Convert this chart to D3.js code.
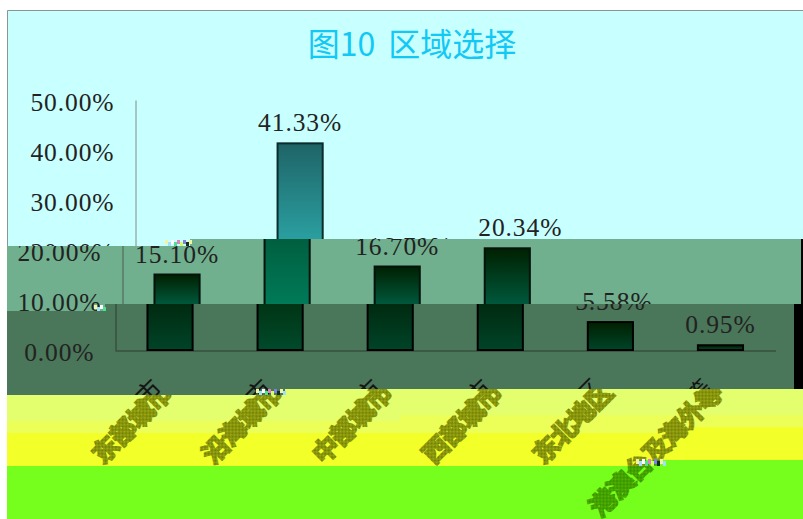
<!DOCTYPE html>
<html>
<head>
<meta charset="utf-8">
<script src="https://cdn.jsdelivr.net/npm/d3@7"></script>
<style>
  html, body { margin: 0; padding: 0; background: #fff; }
  svg { display: block; }
  .val, .ytick text { font-family: "Liberation Serif", serif; font-size: 25.5px; letter-spacing: 0.9px; fill: #222; }
  .xlab text { font-family: "Noto Sans CJK SC", sans-serif; font-size: 25px; }
</style>
</head>
<body>
<svg id="chart" width="803" height="519"></svg>
<script>
// the category names are scrambled beyond reading in the picture, these are best guesses
const categories = ["东部城市", "沿海城市", "中部城市", "西部城市", "东北地区", "港澳台及海外等"];
const shares = [15.10, 41.33, 16.70, 20.34, 5.58, 0.95];
const yTicks = [0, 10, 20, 30, 40, 50];
const titleText = "图10 区域选择";

const width = 803;
const height = 519;

// the picture is cut in bands that slipped sideways, each band shows the same chart moved by dx
const bands = [
  { id: "b1", dx: 0, fill: "#c8ffff", axis: "#808c8c", edge: "#0c2c2c",
    pts: [[7, 10], [803, 10], [803, 239], [190, 239], [190, 246], [7, 246]],
    top: 144, bottom: 239, from: () => "#1f6467", to: () => "#2a9fa0" },
  { id: "b2", dx: -13, fill: "#70b08e", axis: "#4a5a50", edge: "#04140c",
    pts: [[7, 246], [190, 246], [190, 239], [801, 239], [801, 304], [105, 304], [105, 311], [7, 311]],
    top: 239, bottom: 304, from: (d, i) => i === 1 ? "#005f3f" : "#002000", to: (d, i) => i === 1 ? "#007a58" : "#00583c" },
  { id: "b3", dx: -20, fill: "#4a7659", axis: "#2c3c30", edge: "#000",
    pts: [[7, 311], [105, 311], [105, 304], [794, 304], [794, 389], [285, 389], [285, 395], [7, 395]],
    top: 304, bottom: 350, from: (d, i) => i === 1 ? "#003514" : i > 3 ? "#002000" : "#002a10", to: (d, i) => i === 1 ? "#004a2c" : "#004428" }
];
const floorBands = [
  { fill: "#e4ff6e", pts: [[7, 395], [285, 395], [285, 389], [803, 389], [803, 415], [400, 415], [400, 421], [7, 421]] },
  { fill: "#ecff58", pts: [[7, 421], [400, 421], [400, 415], [803, 415], [803, 427], [667, 427], [667, 433], [7, 433]] },
  { fill: "#f3ff28", pts: [[7, 433], [667, 433], [667, 427], [803, 427], [803, 460], [645, 460], [645, 466], [7, 466]] },
  { fill: "#76ff1c", pts: [[7, 466], [645, 466], [645, 460], [803, 460], [803, 519], [7, 519]] }
];
const labelBands = [
  { id: "lab1", dx: -20, ink: "#6c7a00", gap: "#a3b018", pts: [[7, 395], [285, 395], [285, 389], [803, 389], [803, 460], [645, 460], [645, 466], [7, 466]] },
  { id: "lab2", dx: -20, ink: "#2f8c00", gap: "#58b800", pts: floorBands[3].pts }
];
// little specks of broken pixels along the cuts
const speckColors = ["#f4f4a0", "#a0e0ff", "#ffffff", "#50e090", "#e080c0", "#d0ff60", "#8080e0", "#103020"];
const specks = [
  { x: 165, y: 240, w: 25, h: 6 },
  { x: 94, y: 305, w: 12, h: 6 },
  { x: 256, y: 389, w: 30, h: 6 },
  { x: 636, y: 459, w: 30, h: 7 }
];

const svg = d3.select("#chart");
const defs = svg.append("defs");
const toPath = pts => "M" + pts.join("L") + "Z";

const x = d3.scaleBand().domain(categories).range([135, 795.5]).paddingInner(0.59).paddingOuter(0.295);
const y = d3.scaleLinear().domain([0, 50]).range([350, 100]);

// shared text and axis lines, shown once per band with <use>
const axisLines = defs.append("g").attr("id", "axisLines");
axisLines.append("g")
  .attr("transform", "translate(135.5,0)")
  .call(d3.axisLeft(y).tickValues([]).tickSize(0))
  .call(g => g.select(".domain").attr("stroke-width", 1));
axisLines.append("g")
  .attr("transform", "translate(0,350.5)")
  .call(d3.axisBottom(x).tickValues([]).tickSize(0))
  .call(g => g.select(".domain").attr("stroke-width", 1));

const chartText = defs.append("g").attr("id", "chartText");
chartText.append("g")
  .attr("class", "ytick")
  .attr("transform", "translate(135.5,0)")
  .call(d3.axisLeft(y).tickValues(yTicks).tickSize(0).tickPadding(21).tickFormat(d => d.toFixed(2) + "%"))
  .call(g => g.select(".domain").remove())
  .call(g => g.selectAll("text").attr("fill", null).attr("dy", "0.43em"));
chartText.selectAll("text.val")
  .data(shares)
  .join("text")
  .attr("class", "val")
  .attr("text-anchor", "middle")
  .attr("x", (d, i) => x(categories[i]) + x.bandwidth() / 2)
  .attr("y", d => y(d) - 12)
  .text(d => d.toFixed(2) + "%");

const xLabels = defs.append("g").attr("id", "xLabels").attr("class", "xlab");
xLabels.selectAll("text")
  .data(categories)
  .join("text")
  .attr("text-anchor", "end")
  .attr("transform", d => `translate(${x(d) + x.bandwidth() / 2 + 4},392) rotate(-45)`)
  .text(d => d);

// black strip behind the right end of the slipped bands
svg.append("rect").attr("x", 794).attr("y", 239).attr("width", 9).attr("height", 156).attr("fill", "#000");

svg.selectAll("path.floor")
  .data(floorBands)
  .join("path")
  .attr("class", "floor")
  .attr("d", d => toPath(d.pts))
  .attr("fill", d => d.fill);

bands.forEach(band => {
  defs.append("clipPath").attr("id", "clip-" + band.id).append("path").attr("d", toPath(band.pts));
  svg.append("path").attr("d", toPath(band.pts)).attr("fill", band.fill);

  const clipped = svg.append("g").attr("clip-path", `url(#clip-${band.id})`);
  const g = clipped.append("g").attr("transform", `translate(${band.dx},0)`);

  g.append("use").attr("href", "#axisLines").attr("color", band.axis);
  shares.forEach((v, i) => {
    const gradId = `grad-${band.id}-${i}`;
    const grad = defs.append("linearGradient").attr("id", gradId)
      .attr("gradientUnits", "userSpaceOnUse")
      .attr("x1", 0).attr("x2", 0)
      .attr("y1", Math.max(y(v), band.top)).attr("y2", band.bottom);
    grad.append("stop").attr("offset", 0).attr("stop-color", band.from(v, i));
    grad.append("stop").attr("offset", 1).attr("stop-color", band.to(v, i));
  });
  g.selectAll("rect.bar")
    .data(shares)
    .join("rect")
    .attr("class", "bar")
    .attr("x", (d, i) => x(categories[i]))
    .attr("width", x.bandwidth())
    .attr("y", d => y(d))
    .attr("height", d => y(0) - y(d))
    .attr("fill", (d, i) => `url(#grad-${band.id}-${i})`)
    .attr("stroke", band.edge)
    .attr("stroke-width", 2);
  g.append("use").attr("href", "#chartText");
  if (band.dx === -20) {
    g.append("use").attr("href", "#xLabels").attr("x", -10).attr("y", -2).attr("fill", "#141414");
  }
});

// below the dark band the axis labels only survive as a checkered smear
labelBands.forEach(band => {
  const pattern = defs.append("pattern").attr("id", "dither-" + band.id)
    .attr("patternUnits", "userSpaceOnUse").attr("width", 2).attr("height", 2);
  pattern.append("rect").attr("width", 2).attr("height", 2).attr("fill", band.gap);
  pattern.append("rect").attr("width", 1).attr("height", 1).attr("fill", band.ink);
  pattern.append("rect").attr("x", 1).attr("y", 1).attr("width", 1).attr("height", 1).attr("fill", band.ink);

  defs.append("clipPath").attr("id", "clip-" + band.id).append("path").attr("d", toPath(band.pts));
  svg.append("g").attr("clip-path", `url(#clip-${band.id})`)
    .append("g").attr("transform", `translate(${band.dx},2)`)
    .append("use").attr("href", "#xLabels")
    .attr("fill", `url(#dither-${band.id})`)
    .attr("stroke", `url(#dither-${band.id})`)
    .attr("stroke-width", 3);
});

specks.forEach(s => {
  d3.range(0, s.w, 3).forEach((dx, i) => {
    svg.append("rect")
      .attr("x", s.x + dx).attr("y", s.y + (i % 2) * 2)
      .attr("width", 3).attr("height", s.h - 2)
      .attr("fill", speckColors[i % speckColors.length]);
  });
});

svg.append("text")
  .attr("x", 412)
  .attr("y", 56)
  .attr("text-anchor", "middle")
  .attr("font-family", '"Noto Sans CJK SC", sans-serif')
  .attr("font-size", 32)
  .attr("fill", "#12c8f5")
  .style("word-spacing", "6px")
  .text(titleText);

// thin frame on the top and left of the chart area
svg.append("path")
  .attr("d", `M7.5,246V10.5H${width}`)
  .attr("fill", "none")
  .attr("stroke", "#8a9696")
  .attr("stroke-width", 1);
</script>
</body>
</html>
